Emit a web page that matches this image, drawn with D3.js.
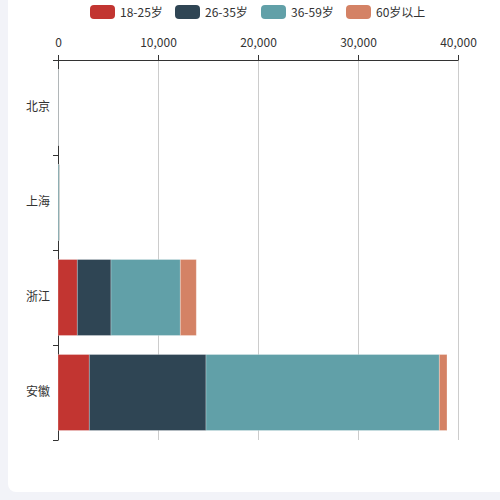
<!DOCTYPE html>
<html>
<head>
<meta charset="utf-8">
<script src="https://cdn.jsdelivr.net/npm/d3@7"></script>
<style>
  body { margin: 0; background: #f2f3f8; }
  #chart { position: absolute; left: 8px; top: -8px; width: 510px; height: 500px; background: #fff; border-radius: 8px; }
  svg { position: absolute; left: 0; top: 0; }
  text { font-family: "Noto Sans CJK SC", "Noto Sans", sans-serif; }
</style>
</head>
<body>
<div id="chart"></div>
<svg id="svg" width="500" height="500"></svg>
<script>
// data
var provinces = ["北京", "上海", "浙江", "安徽"];
var ageGroups = ["18-25岁", "26-35岁", "36-59岁", "60岁以上"];
var age18to25 = [5, 10, 1930, 3130];
var age26to35 = [10, 20, 3370, 11670];
var age36to59 = [20, 130, 6930, 23330];
var age60plus = [3, 20, 1600, 770];
var xTicks = [0, 10000, 20000, 30000, 40000];
var colors = ["#c23531", "#2f4554", "#61a0a8", "#d48265"];

var margin = { top: 60, right: 42, bottom: 60, left: 58 },
  width = 500 - margin.left - margin.right,
  height = 500 - margin.top - margin.bottom;

var rows = provinces.map(function(p, i) {
  return { name: p, "18-25岁": age18to25[i], "26-35岁": age26to35[i], "36-59岁": age36to59[i], "60岁以上": age60plus[i] };
});
var series = d3.stack().keys(ageGroups)(rows);

var x = d3.scaleLinear().domain([0, 40000]).range([0, width]);
var y = d3.scaleBand().domain(provinces).range([0, height]).paddingInner(0.2).paddingOuter(0.1);
var yTick = d3.scaleBand().domain(provinces).range([0, height]);

var svg = d3.select("#svg");

// legend
var legend = svg.append("g").attr("class", "legend");
var legendX = [90, 175, 261, 346];
ageGroups.forEach(function(g, i) {
  legend.append("rect")
    .attr("x", legendX[i]).attr("y", 5)
    .attr("width", 25).attr("height", 14)
    .attr("rx", 4)
    .attr("fill", colors[i]);
  legend.append("text")
    .attr("x", legendX[i] + 30).attr("y", 16.5)
    .attr("font-size", 12).attr("fill", "#333")
    .text(g);
});

var g = svg.append("g")
  .attr("transform", "translate(" + margin.left + "," + margin.top + ")");

// grid
g.append("g").selectAll("line")
  .data(xTicks.slice(1))
  .enter().append("line")
  .attr("x1", function(d) { return x(d) + 0.5; })
  .attr("x2", function(d) { return x(d) + 0.5; })
  .attr("y1", 0).attr("y2", height)
  .attr("stroke", "#ccc");

// x axis (top)
var xAxis = g.append("g")
  .call(d3.axisTop(x).tickValues(xTicks).tickFormat(d3.format(",")).tickSize(5).tickPadding(8));
xAxis.select(".domain").attr("stroke", "#333").attr("d", "M-5,0.5H" + (width + 0.5));
xAxis.selectAll(".tick line").attr("stroke", "#333");
xAxis.selectAll(".tick text").attr("font-size", 12).attr("fill", "#333");

// y axis
var yAxis = g.append("g")
  .call(d3.axisLeft(yTick).tickSize(0).tickPadding(8));
yAxis.select(".domain").attr("stroke", "#333").attr("d", "M0.5,0V" + height);
yAxis.selectAll(".tick text").attr("font-size", 12).attr("fill", "#333");
g.append("g").selectAll("line")
  .data(provinces.map(function(p) { return yTick(p); }).concat([height]))
  .enter().append("line")
  .attr("x1", -5).attr("x2", 0.5)
  .attr("y1", function(d) { return d + 0.5; })
  .attr("y2", function(d) { return d + 0.5; })
  .attr("stroke", "#333");

// bars (drawn over the axis line)
g.append("g").selectAll("g")
  .data(series)
  .enter().append("g")
  .attr("fill", function(d, i) { return colors[i]; })
  .selectAll("rect")
  .data(function(d) { return d; })
  .enter().append("rect")
  .attr("x", function(d) { return x(d[0]); })
  .attr("y", function(d) { return y(d.data.name); })
  .attr("width", function(d) { return Math.max(0, x(d[1]) - x(d[0])); })
  .attr("height", y.bandwidth())
  .attr("stroke", "rgba(255,255,255,0.35)")
  .attr("stroke-width", 0.8);
</script>
</body>
</html>
